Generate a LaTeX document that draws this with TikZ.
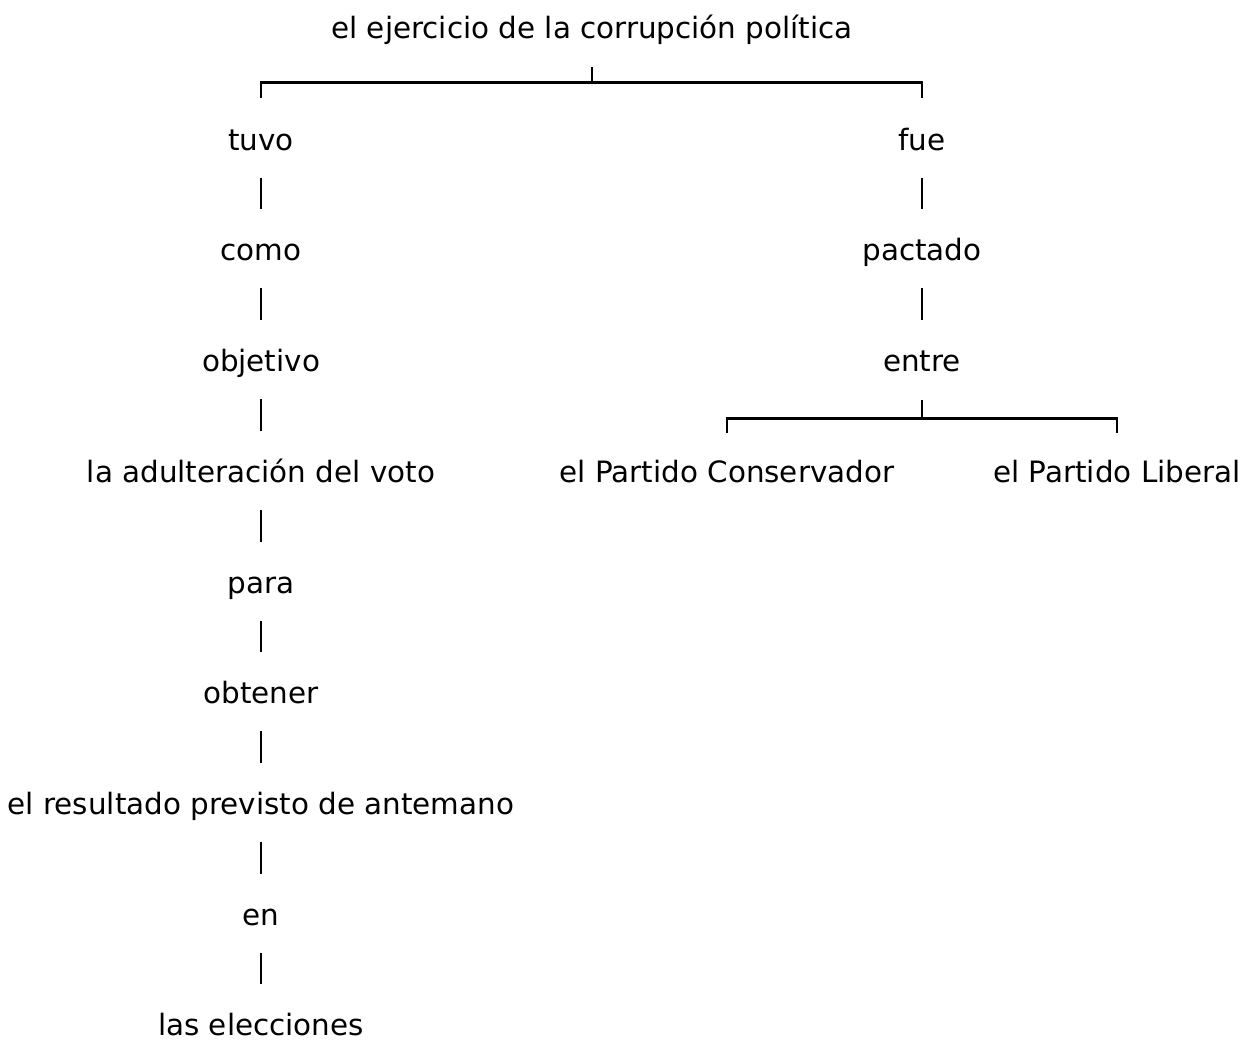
\documentclass[tikz,border=0pt]{standalone}
\usepackage{fontspec}
\setmainfont{DejaVu Sans}
\usetikzlibrary{calc}
\tikzset{word/.style={anchor=base, inner sep=0pt, text height=22pt, text depth=7pt,
    font=\fontsize{29.4}{34}\selectfont},
  link/.style={line width=2.8pt, shorten <=21pt, shorten >=29pt},
  fork/.style={line width=2.8pt}}
\begin{document}
\begin{tikzpicture}[x=1pt, y=-1pt, line cap=butt, line join=miter]
      \useasboundingbox[fill=white] (0,0) rectangle (1258,1046);
      \node[word] (root) at (592,39) {el ejercicio de la corrupción política};
      % left branch
      \node[word] (tuvo) at (261,150) {tuvo};
      \node[word] (como) at (261,260) {como};
      \node[word] (objetivo) at (261,371) {objetivo};
      \node[word] (adulteracion) at (261,482) {la adulteración del voto};
      \node[word] (para) at (261,593) {para};
      \node[word] (obtener) at (261,703) {obtener};
      \node[word] (resultado) at (261,814) {el resultado previsto de antemano};
      \node[word] (en) at (261,925) {en};
      \node[word] (elecciones) at (261,1035) {las elecciones};
      % right branch
      \node[word] (fue) at (922,150) {fue};
      \node[word] (pactado) at (922,260) {pactado};
      \node[word] (entre) at (922,371) {entre};
      \node[word] (conservador) at (727,482) {el Partido Conservador};
      \node[word] (liberal) at (1117,482) {el Partido Liberal};
      % forks
      \coordinate (rootfork) at ($(root.south)+(0,36)$);
      \draw[fork] (rootfork) -- ++(0,-15);
      \draw[fork, shorten >=30pt] (rootfork) -| (tuvo.north);
      \draw[fork, shorten >=30pt] (rootfork) -| (fue.north);
      \coordinate (entrefork) at ($(entre.south)+(0,40)$);
      \draw[fork] (entrefork) -- ++(0,-18);
      \draw[fork, shorten >=27pt] (entrefork) -| (conservador.north);
      \draw[fork, shorten >=27pt] (entrefork) -| (liberal.north);
      % vertical links
      \foreach \a/\b in {tuvo/como, como/objetivo, objetivo/adulteracion,
        adulteracion/para, para/obtener, obtener/resultado, resultado/en,
        en/elecciones, fue/pactado, pactado/entre}
        \draw[link] (\a.south) -- (\b.north);
    \end{tikzpicture}
\end{document}
